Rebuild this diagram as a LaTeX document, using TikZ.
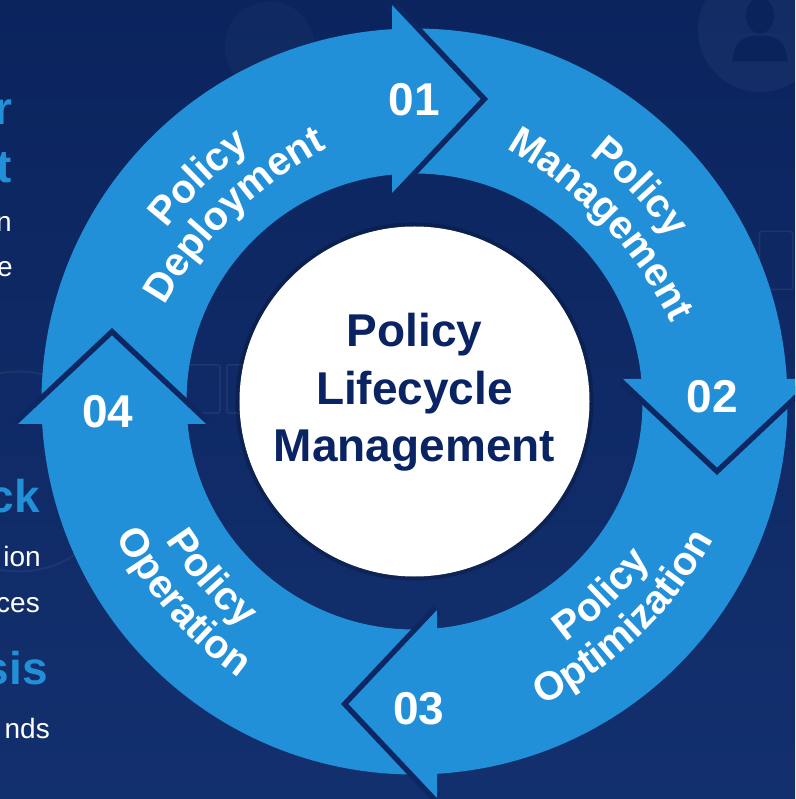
\documentclass[tikz,border=0pt]{standalone}
\usepackage{fontspec}
\setmainfont{Liberation Sans}
\usetikzlibrary{decorations.text}

\definecolor{bgtop}{HTML}{0B245E}
\definecolor{bgbot}{HTML}{13306E}
\definecolor{gapnavy}{HTML}{0D2763}
\definecolor{ringblue}{HTML}{2290D8}
\definecolor{titlenavy}{HTML}{0A2463}
\definecolor{iconnavy}{HTML}{0B235B}

\newcommand{\lblfont}{\fontsize{40}{44}\selectfont\bfseries}
\newcommand{\numfont}{\fontsize{46}{50}\selectfont\bfseries}
\newcommand{\ctrfont}{\fontsize{46}{57.5}\selectfont\bfseries}
\newcommand{\headfont}{\fontsize{46}{50}\selectfont\bfseries}
\newcommand{\sidefont}{\fontsize{28}{32}\selectfont}

% word set clockwise (top) or counter-clockwise (bottom) on a flat arc
\newcommand{\cwword}[3]{%
  \path[shift={(#1:#2-400)}, decorate, decoration={text along path, text align=center,
    text color=white, text={|\lblfont|#3}}]
    ({#1+40}:400) arc[start angle={#1+40}, end angle={#1-40}, radius=400];}
\newcommand{\ccwword}[3]{%
  \path[shift={(#1:#2-400)}, decorate, decoration={text along path, text align=center,
    text color=white, text={|\lblfont|#3}}]
    ({#1-40}:400) arc[start angle={#1-40}, end angle={#1+40}, radius=400];}

\tikzset{
  body/.style={fill=ringblue},
  head/.style={fill=ringblue},
  notch/.style={draw=gapnavy, line width=11pt, miter limit=10},
  stepnum/.style={text=white, font=\numfont, inner sep=0pt},
  faint/.style={fill=white, fill opacity=0.04},
  faintbox/.style={draw=white, draw opacity=0.07, line width=1.5pt, rounded corners=2pt},
  side/.style={anchor=base east, inner sep=0pt, font=\sidefont, text=white},
  sidehead/.style={anchor=base east, inner sep=0pt, font=\headfont, text=ringblue},
}

\begin{document}
\begin{tikzpicture}[x=1pt,y=1pt]
\useasboundingbox (-414.5,-397.5) rectangle (380.5,401.5);
\clip (-414.5,-397.5) rectangle (380.5,401.5);
\shade[top color=bgtop, bottom color=bgbot] (-414.5,-397.5) rectangle (380.5,401.5);

% background icons
\fill[faint] (345.5,371.5) circle (62);
\fill[iconnavy] (345.5,386) ellipse (14 and 18);
\fill[iconnavy] (318,340) -- (373,340) .. controls (372,362) and (360,366) .. (345.5,366)
  .. controls (331,366) and (319,362) .. (318,340) -- cycle;
\draw[faintbox] (-231.5,-11.5) rectangle (-194.5,36.5);
\draw[faintbox] (-187.5,-11.5) rectangle (-150,36.5);
\draw[faintbox] (345,112) rectangle (378,170);
\draw[white, opacity=0.05, line width=2pt] (-395,-70) circle (100);
\fill[white, fill opacity=0.025] (-145,355) circle (45);

% left text, cut by the page edge
\node[sidehead] (s1) at (-401.5,276.5) {r};
\node[sidehead] (s2) at (-402.5,218.5) {t};
\node[side] (s3) at (-402.5,169.5) {n};
\node[side] (s4) at (-401.5,124.5) {e};
\node[sidehead] (s5) at (-374.5,-111.5) {ck};
\node[side] (s6) at (-373.5,-164.5) {ion};
\node[side] (s7) at (-374.5,-210.5) {ces};
\node[sidehead] (s8) at (-366.5,-282.5) {sis};
\node[side] (s9) at (-364.5,-336.5) {nds};

% ring bodies
\foreach \k in {0,...,3}
  \fill[body, rotate=-90*\k] (183.46:373) arc[start angle=183.46, end angle=93.46, radius=373]
    -- (95.66:228) arc[start angle=95.66, end angle=185.66, radius=228] -- cycle;

% arrow heads
\foreach \k in {0,...,3} {
  \begin{scope}[rotate=-90*\k]
    \draw[notch] (-22.5,396.5) -- (66,302.5) -- (-22.5,208.5);
    \fill[head] (-22.5,396.5) -- (66,302.5) -- (-22.5,208.5) -- cycle;
  \end{scope}
}

% centre
\fill[black, opacity=0.2] (0,0) circle (179);
\fill[white] (0,0) circle (175);
\node[align=center, text=titlenavy, font=\ctrfont] (title) at (0,9) {Policy\\Lifecycle\\Management};

\node[stepnum] (n01) at (0,301.5) {01};
\node[stepnum] (n02) at (298,5) {02};
\node[stepnum] (n03) at (4.5,-307) {03};
\node[stepnum] (n04) at (-306.5,-10) {04};

\cwword{134}{301}{Policy}
\cwword{134}{259}{Deployment}
\cwword{43.5}{301}{Policy}
\cwword{43.5}{259}{Management}
\ccwword{-46}{283}{Policy}
\ccwword{-46}{325}{Optimization}
\ccwword{221}{283}{Policy}
\ccwword{221}{325}{Operation}
\end{tikzpicture}
\end{document}
